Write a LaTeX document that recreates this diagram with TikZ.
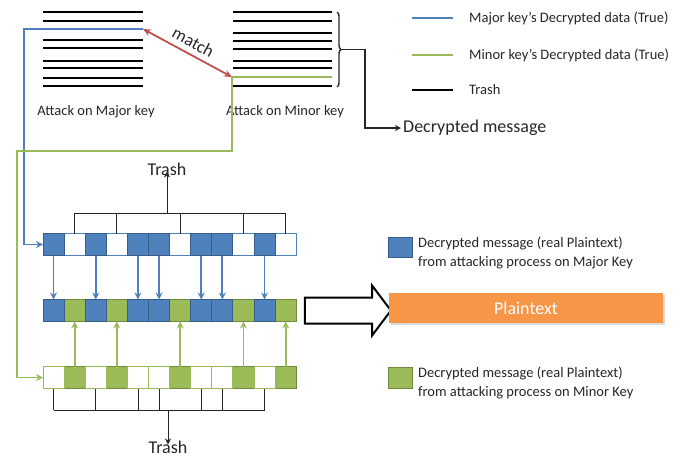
\documentclass[tikz,border=0pt]{standalone}
\usepackage{fontspec}
\setmainfont{Carlito}
\usetikzlibrary{arrows.meta}
\usetikzlibrary{shapes.arrows}
\usetikzlibrary{shadows}
\usetikzlibrary{decorations.pathreplacing}
\definecolor{keyblue}{HTML}{4F81BD}
\definecolor{blueedge}{HTML}{385D8A}
\definecolor{keygreen}{HTML}{9BBB59}
\definecolor{greenedge}{HTML}{71893F}
\definecolor{matchred}{HTML}{C0504D}
\definecolor{plainorange}{HTML}{F79646}

\begin{document}
\begin{tikzpicture}[x=1pt, y=-1pt]
    \tikzstyle{stack line} = [line width=2.4pt]
    \tikzstyle{blue wire} = [keyblue, line width=1.8pt]
    \tikzstyle{green wire} = [keygreen, line width=1.8pt]
    \tikzstyle{trash wire} = [black!85, line width=0.9pt]
    \tikzstyle{cell} = [draw, line width=1pt, minimum width=21.1pt, minimum height=22pt, inner sep=0pt, outer sep=0pt]
    \tikzstyle{small text} = [inner sep=0pt, text=black!85, font=\fontsize{14.5pt}{19pt}\selectfont]
    \tikzstyle{big text} = [inner sep=0pt, text=black!85, font=\fontsize{18pt}{21pt}\selectfont]
    \useasboundingbox (0,0) rectangle (690,459);

    % stacks of decrypted data
    \foreach \y in {12, 21, 40, 48, 61, 68, 78, 86}
        \draw[stack line] (43,\y) -- (143,\y);
    \foreach \y in {12, 21, 33, 41, 49, 61, 68, 86}
        \draw[stack line] (233,\y) -- (332,\y);
    \coordinate (major true) at (143,29);
    \coordinate (minor true) at (232,77);
    \coordinate (minor end) at (332,77);
    \node[small text] (major label) at (96,112) {Attack on Major key};
    \node[small text] (minor label) at (285,112) {Attack on Minor key};
    \draw[matchred, line width=1.8pt, {Stealth[length=8pt,width=7pt]}-{Stealth[length=8pt,width=7pt]}]
        (major true) -- node[sloped, above=2pt, text=black!85, font=\fontsize{17.5pt}{19pt}\selectfont] {match} (minor true);

    % brace to decrypted message
    \draw[trash wire, line width=1.4pt, decorate, decoration={brace, amplitude=4pt}] (337,12) -- (337,87);
    \coordinate (brace tip) at (341,49.5);
    \node[big text, anchor=west] (dec msg) at (403,128) {Decrypted message};
    \draw[trash wire, line width=1.4pt, -{Stealth[length=6pt,width=6pt]}] (brace tip) -- ++(24,0) |- ([xshift=-2pt]dec msg.west);

    % legend
    \node[small text, anchor=west] (leg major) at (469,18) {Major key's Decrypted data (True)};
    \node[small text, anchor=west] (leg minor) at (469,55) {Minor key's Decrypted data (True)};
    \node[small text, anchor=west] (leg trash) at (469,90) {Trash};
    \draw[blue wire, line width=2.6pt] ([xshift=-57pt]leg major.west) -- ([xshift=-16pt]leg major.west);
    \draw[green wire, line width=2.6pt] ([xshift=-57pt]leg minor.west) -- ([xshift=-16pt]leg minor.west);
    \draw[black, line width=2.6pt] ([xshift=-57pt]leg trash.west) -- ([xshift=-16pt]leg trash.west);

    % rows of cells
    \foreach \i in {2,4,7,10,12} {
        \node[cell, draw=keyblue, fill=white] (a\i) at ({32.45+21.1*\i},244.5) {};
        \node[cell, draw=greenedge, fill=keygreen] (b\i) at ({32.45+21.1*\i},310.5) {};
        \node[cell, draw=greenedge, fill=keygreen] (c\i) at ({32.45+21.1*\i},377.5) {};
    }
    \foreach \i in {1,3,5,6,8,9,11} {
        \node[cell, draw=blueedge, fill=keyblue] (a\i) at ({32.45+21.1*\i},244.5) {};
        \node[cell, draw=blueedge, fill=keyblue] (b\i) at ({32.45+21.1*\i},310.5) {};
        \node[cell, draw=keygreen, fill=white] (c\i) at ({32.45+21.1*\i},377.5) {};
    }
    \foreach \i in {1,3,5,6,8,9,11}
        \draw[blue wire, -{Stealth[length=7pt,width=7pt]}] (a\i) -- (b\i);
    \foreach \i in {2,4,7,10,12}
        \draw[green wire, -{Stealth[length=7pt,width=7pt]}] (c\i) -- (b\i);

    % wires into the rows
    \draw[blue wire, -{Stealth[length=7pt,width=7pt]}] (major true) -- (24,29) |- (a1.west);
    \coordinate (green corner) at (17,151);
    \draw[green wire, -{Stealth[length=7pt,width=7pt]}] (minor end) -- (minor true) |- (green corner) |- (c1.west);

    % trash
    \node[big text] (top trash) at (167,169) {Trash};
    \coordinate (top join) at (167,213);
    \foreach \i in {2,4,7,10,12}
        \draw[trash wire] (a\i.north) -- (a\i.north |- top join);
    \draw[trash wire] (a2.north |- top join) -- (a12.north |- top join);
    \draw[trash wire, -{Stealth[length=6pt,width=6pt]}] (top join) -- ([yshift=4pt]top trash.south);
    \node[big text] (bottom trash) at (168,447) {Trash};
    \coordinate (bottom join) at (168,410);
    \foreach \i in {1,3,5,6,8,9,11}
        \draw[trash wire] (c\i.south) -- (c\i.south |- bottom join);
    \draw[trash wire] (c1.south |- bottom join) -- (c11.south |- bottom join);
    \draw[trash wire, -{Stealth[length=6pt,width=6pt]}] (bottom join) -- ([yshift=-4pt]bottom trash.north);

    % result
    \node[single arrow, draw=black, line width=2pt, fill=white, inner xsep=0pt, inner ysep=12pt, minimum height=86pt,
        single arrow head extend=12pt, single arrow tip angle=106] (big arrow) at (343,310.5) {};
    \node[fill=plainorange, minimum width=274pt, minimum height=30pt, inner sep=0pt, text=white,
        font=\fontsize{18pt}{21pt}\selectfont, drop shadow={opacity=0.3, shadow xshift=1.5pt, shadow yshift=-2pt}] (plain) at (526,308) {Plaintext};

    \node[draw=blueedge, fill=keyblue, line width=1pt, minimum width=24pt, minimum height=20pt, inner sep=0pt] (key major) at (400,247) {};
    \node[small text, anchor=west, align=left] (key major text) at (418,253) {Decrypted message (real Plaintext)\\from attacking process on Major Key};
    \node[draw=greenedge, fill=keygreen, line width=1pt, minimum width=24pt, minimum height=21pt, inner sep=0pt] (key minor) at (400,377.5) {};
    \node[small text, anchor=west, align=left] (key minor text) at (418,382.5) {Decrypted message (real Plaintext)\\from attacking process on Minor Key};
\end{tikzpicture}
\end{document}
